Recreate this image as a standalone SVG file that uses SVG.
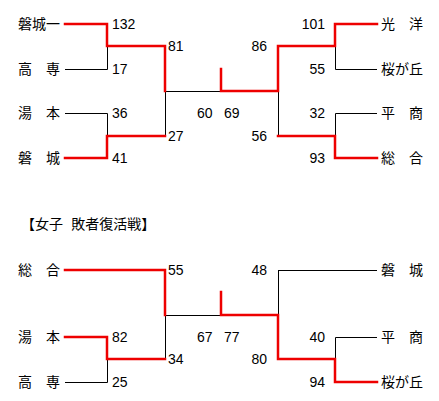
<svg xmlns="http://www.w3.org/2000/svg" width="439" height="401" viewBox="0 0 439 401">
<style>
.bg{fill:#fff}
.w{stroke:#e00;stroke-width:2.5;fill:none;stroke-linecap:square}
.l{stroke:#000;stroke-width:1;fill:none}
text{font-family:"Noto Sans CJK JP","Liberation Sans",sans-serif;font-size:14px;fill:#000}
.n{font-family:"Liberation Sans",Arial,sans-serif;font-size:14px}
.e{text-anchor:end}
</style>
<rect class="bg" width="439" height="401"/>
<g id="connectors">
<path class="l" d="M65 69.5H107.5V46M65 113.5H107.5V136M165.5 91.5H221M165.5 91V136M335.5 46V69.5H377M335.5 136V113.5H377M278.5 91V136"/>
<path class="w" d="M65 24H107V46H165V91M65 158H107V136H165M221 69V91H278V46H335V24H377M278 136H335V158H377"/>
<path class="l" d="M165.5 315.5H221M165.5 315V359M65 382.5H107.5V359M278.5 270.5H377M278.5 270V315M335.5 359V337.5H377"/>
<path class="w" d="M65 270H165V315M65 337H107V359H165M221 292V315H278V359H335V382H377"/>
</g>
<g id="title"><text x="21" y="229" word-spacing="5">【女子 敗者復活戦】</text></g>
<g id="team-iwakiichi"><text x="18" y="29">磐城一</text></g>
<g id="team-kosen"><text x="18" y="74">高　専</text></g>
<g id="team-yumoto"><text x="18" y="118">湯　本</text></g>
<g id="team-iwaki"><text x="18" y="163">磐　城</text></g>
<g id="team-koyo"><text x="381" y="29">光　洋</text></g>
<g id="team-sakuragaoka"><text x="381" y="74">桜が丘</text></g>
<g id="team-taisho"><text x="381" y="118">平　商</text></g>
<g id="team-sogo"><text x="381" y="163">総　合</text></g>
<g id="w-team-sogo"><text x="18" y="275">総　合</text></g>
<g id="w-team-yumoto"><text x="18" y="342">湯　本</text></g>
<g id="w-team-kosen"><text x="18" y="387">高　専</text></g>
<g id="w-team-iwaki"><text x="381" y="275">磐　城</text></g>
<g id="w-team-taisho"><text x="381" y="342">平　商</text></g>
<g id="w-team-sakuragaoka"><text x="381" y="387">桜が丘</text></g>
<g id="scores-top">
<text class="n" x="112" y="29">132</text>
<text class="n" x="112" y="74">17</text>
<text class="n" x="112" y="118">36</text>
<text class="n" x="112" y="163">41</text>
<text class="n" x="168" y="51">81</text>
<text class="n" x="168" y="141">27</text>
<text class="n" x="197" y="118">60</text>
<text class="n" x="224" y="118">69</text>
<text class="n e" x="325" y="29">101</text>
<text class="n e" x="325" y="74">55</text>
<text class="n e" x="325" y="118">32</text>
<text class="n e" x="325" y="163">93</text>
<text class="n e" x="267" y="51">86</text>
<text class="n e" x="267" y="141">56</text>
</g>
<g id="scores-bottom">
<text class="n" x="168" y="275">55</text>
<text class="n" x="112" y="342">82</text>
<text class="n" x="168" y="364">34</text>
<text class="n" x="112" y="387">25</text>
<text class="n" x="197" y="342">67</text>
<text class="n" x="224" y="342">77</text>
<text class="n e" x="267" y="275">48</text>
<text class="n e" x="325" y="342">40</text>
<text class="n e" x="267" y="364">80</text>
<text class="n e" x="325" y="387">94</text>
</g>
</svg>
